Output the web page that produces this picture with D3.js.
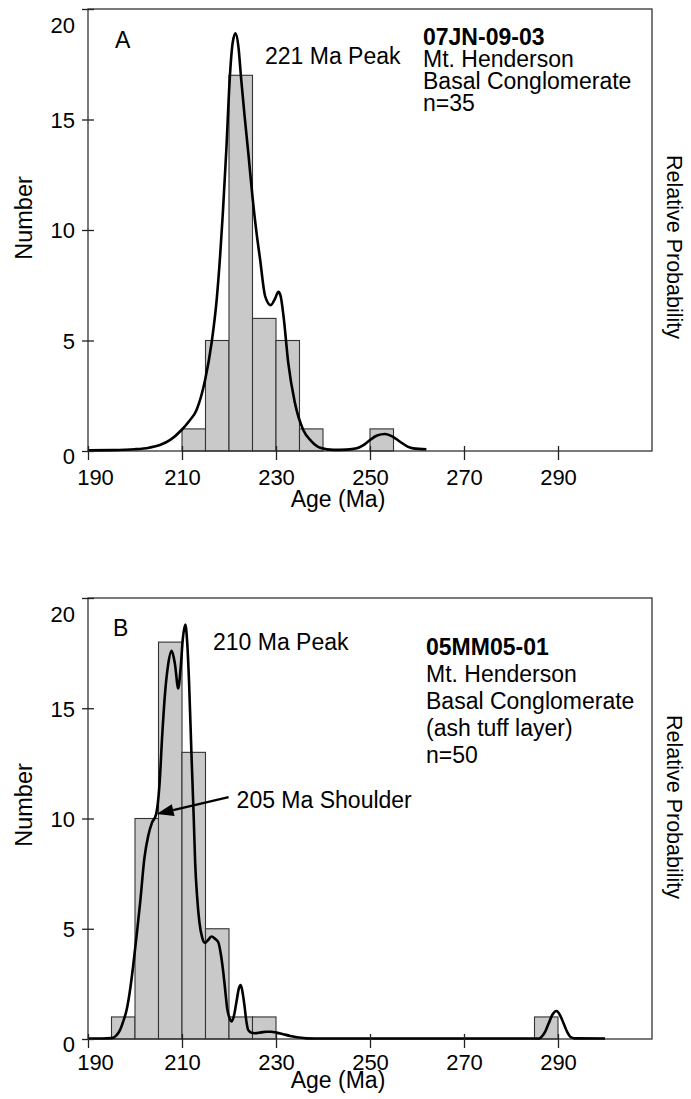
<!DOCTYPE html>
<html><head><meta charset="utf-8">
<script src="https://cdn.jsdelivr.net/npm/d3@7"></script>
<style>
body{margin:0;background:#fff}
text{font-family:"Liberation Sans",Arial,Helvetica,sans-serif;fill:#000}
</style>
</head><body>
<svg id="chart" width="691" height="1099"></svg>
<script>
// ---------- data ----------
const binWidth = 5;
const xTickValues = [190, 210, 230, 250, 270, 290];
const yTickValues = [0, 5, 10, 15, 20];

// Panel A: 07JN-09-03
const binStartsA = [210, 215, 220, 225, 230, 235, 250];
const countsA    = [1, 5, 17, 6, 5, 1, 1];
const probAgeA = [190,195,200,203,205.3,207.5,209.9,211.5,213.1,214.9,216.3,217.4,218.1,218.7,219.4,220.2,220.8,221.4,222.0,222.6,223.3,224.1,225.0,225.9,226.6,227.7,228.9,229.8,230.5,231.0,231.6,232.6,234.0,235.8,237.5,239.4,242.2,245,247.2,248.5,250,251.5,253.2,254.8,256.4,258,259.2,262];
const probValA = [0.03,0.04,0.08,0.15,0.27,0.5,0.95,1.35,1.86,3.2,4.9,6.9,8.8,10.8,13.5,17.0,18.5,18.9,18.3,16.8,15.2,13.5,11.5,9.8,8.7,7.0,6.6,6.9,7.2,7.0,6.1,4.0,2.2,0.95,0.45,0.15,0.05,0.06,0.12,0.25,0.5,0.7,0.77,0.65,0.42,0.2,0.12,0.08];

// Panel B: 05MM05-01
const binStartsB = [195, 200, 205, 210, 215, 220, 225, 285];
const countsB    = [1, 10, 18, 13, 5, 1, 1, 1];
const probAgeB = [190,193,195,196,196.8,197.5,198.2,199.0,199.6,200.4,201.1,202.0,202.8,203.6,204.5,205.2,205.8,206.4,207.0,207.8,208.5,209.2,209.7,210.2,210.7,211.1,211.5,212.0,212.5,212.8,213.2,213.7,214.3,214.9,215.6,216.3,217.0,217.7,218.3,218.8,219.2,219.6,220.1,220.6,221.1,221.6,222.1,222.5,222.9,223.3,223.7,224.1,224.8,225.5,226.8,228.0,229.0,230.1,231.5,233.0,234.8,236.5,240,286,286.5,287.3,288,288.8,289.7,290.5,291.2,292,292.6,293.5,300];
const probValB = [0.02,0.02,0.04,0.15,0.4,0.8,1.3,2.3,3.3,4.8,6.2,8.2,9.2,9.8,10.2,11.5,13.8,15.7,16.9,17.6,17.0,15.9,16.8,18.2,18.8,18.0,16.2,13.0,10.0,8.0,6.5,5.3,4.6,4.36,4.5,4.65,4.55,4.4,3.8,3.0,2.2,1.4,0.95,0.8,1.1,1.7,2.3,2.45,2.1,1.5,0.8,0.4,0.28,0.26,0.3,0.33,0.33,0.29,0.22,0.14,0.07,0.03,0.02,0.02,0.1,0.35,0.7,1.1,1.27,1.05,0.7,0.3,0.1,0.03,0.02];

// ---------- layout ----------
const svg = d3.select("#chart");
const xRange = [88, 652];
const xDomain = [190, 310];

function panel(cfg) {
  const g = svg.append("g");
  const x = d3.scaleLinear().domain(xDomain).range(xRange);
  const y = d3.scaleLinear().domain([0, 20]).range([cfg.bottom, cfg.top]);

  // bars
  g.selectAll("rect.bar").data(cfg.bins.map((b, i) => ({b, c: cfg.counts[i]})))
    .enter().append("rect").attr("class", "bar")
    .attr("x", d => x(d.b)).attr("width", d => x(d.b + binWidth) - x(d.b))
    .attr("y", d => y(d.c)).attr("height", d => y(0) - y(d.c))
    .attr("fill", "#c9c9c9").attr("stroke", "#333").attr("stroke-width", 1.1);

  // frame
  g.append("rect").attr("x", xRange[0]).attr("y", cfg.top)
    .attr("width", xRange[1] - xRange[0]).attr("height", cfg.bottom - cfg.top)
    .attr("fill", "none").attr("stroke", "#333").attr("stroke-width", 1.3);

  // probability curve
  const pts = cfg.ages.map((a, i) => [a, cfg.vals[i]]);
  g.append("path").datum(pts)
    .attr("d", d3.line().x(d => x(d[0])).y(d => y(d[1])).curve(d3.curveMonotoneX))
    .attr("fill", "none").attr("stroke", "#000").attr("stroke-width", 2.6)
    .attr("stroke-linejoin", "round");

  // x axis
  const xa = g.append("g").attr("transform", `translate(0,${cfg.bottom})`)
    .call(d3.axisBottom(x).tickValues(xTickValues).tickSize(9).tickFormat(d3.format("d")));
  xa.select(".domain").remove();
  xa.selectAll(".tick line").attr("y1", -5).attr("y2", 9).attr("stroke", "#222").attr("stroke-width", 1.3);
  xa.selectAll(".tick text").attr("y", cfg.xLabOff).attr("dy", 0)
    .attr("dx", d => d === 190 ? 7 : 0)
    .style("font-size", "22px").attr("fill", "#000");

  // y axis
  const ya = g.append("g").attr("transform", `translate(${xRange[0]},0)`)
    .call(d3.axisLeft(y).tickValues(yTickValues).tickSize(6).tickFormat(d3.format("d")));
  ya.select(".domain").remove();
  ya.selectAll(".tick line").attr("x1", -6).attr("x2", 6).attr("stroke", "#222").attr("stroke-width", 1.3);
  ya.selectAll(".tick text").attr("x", -13).attr("dy", d => d === 20 ? "1.05em" : d === 0 ? "0.55em" : "0.36em")
    .style("font-size", "22px").attr("fill", "#000");

  // axis titles
  g.append("text").attr("x", 338).attr("y", cfg.ageBase).attr("text-anchor", "middle")
    .style("font-size", "23px").text("Age (Ma)");
  g.append("text").attr("transform", `translate(31.5,${cfg.numberMid}) rotate(-90)`)
    .attr("text-anchor", "middle").style("font-size", "23.5px").text("Number");
  g.append("text").attr("transform", `translate(667,${cfg.relStart}) rotate(90)`)
    .attr("text-anchor", "start").style("font-size", "21.5px").text("Relative Probability");

  // panel letter and peak label
  g.append("text").attr("x", cfg.letterX).attr("y", cfg.letterY).style("font-size", "23px").text(cfg.letter);
  g.append("text").attr("x", cfg.peakX).attr("y", cfg.peakY).style("font-size", "23px").text(cfg.peak);

  // sample info block
  const info = g.append("text").style("font-size", "23px");
  cfg.info.forEach((t, i) => {
    info.append("tspan").attr("x", cfg.infoX).attr("y", cfg.infoY + i * cfg.infoStep)
      .style("font-weight", i === 0 ? "bold" : "normal").text(t);
  });
  return {g, x, y};
}

const pA = panel({
  top: 9, bottom: 451, bins: binStartsA, counts: countsA, ages: probAgeA, vals: probValA,
  xLabOff: 34, ageBase: 507, numberMid: 218, relStart: 155,
  letter: "A", letterX: 115, letterY: 48, peak: "221 Ma Peak", peakX: 265, peakY: 64,
  info: ["07JN-09-03", "Mt. Henderson", "Basal Conglomerate", "n=35"], infoX: 423, infoY: 45, infoStep: 22
});

const pB = panel({
  top: 598, bottom: 1039, bins: binStartsB, counts: countsB, ages: probAgeB, vals: probValB,
  xLabOff: 31, ageBase: 1088, numberMid: 805, relStart: 715,
  letter: "B", letterX: 113, letterY: 636, peak: "210 Ma Peak", peakX: 213, peakY: 650,
  info: ["05MM05-01", "Mt. Henderson", "Basal Conglomerate", "(ash tuff layer)", "n=50"], infoX: 426, infoY: 655, infoStep: 27
});

// shoulder annotation with arrow (panel B)
const shoulderAge = 204.6, shoulderVal = 10.2;
const tipX = pB.x(shoulderAge), tipY = pB.y(shoulderVal);
const tailX = tipX + 72, tailY = tipY - 17;
const ang = Math.atan2(tipY - tailY, tipX - tailX);
const L = 17, W = 6;
const bx = tipX - L * Math.cos(ang), by = tipY - L * Math.sin(ang);
pB.g.append("line").attr("x1", tailX).attr("y1", tailY).attr("x2", bx).attr("y2", by)
  .attr("stroke", "#000").attr("stroke-width", 2.2);
pB.g.append("path")
  .attr("d", `M${tipX},${tipY} L${bx - W * Math.sin(ang)},${by + W * Math.cos(ang)} L${bx + W * Math.sin(ang)},${by - W * Math.cos(ang)} Z`)
  .attr("fill", "#000");
pB.g.append("text").attr("x", tailX + 8).attr("y", 808).style("font-size", "23px").text("205 Ma Shoulder");
</script>
</body></html>
